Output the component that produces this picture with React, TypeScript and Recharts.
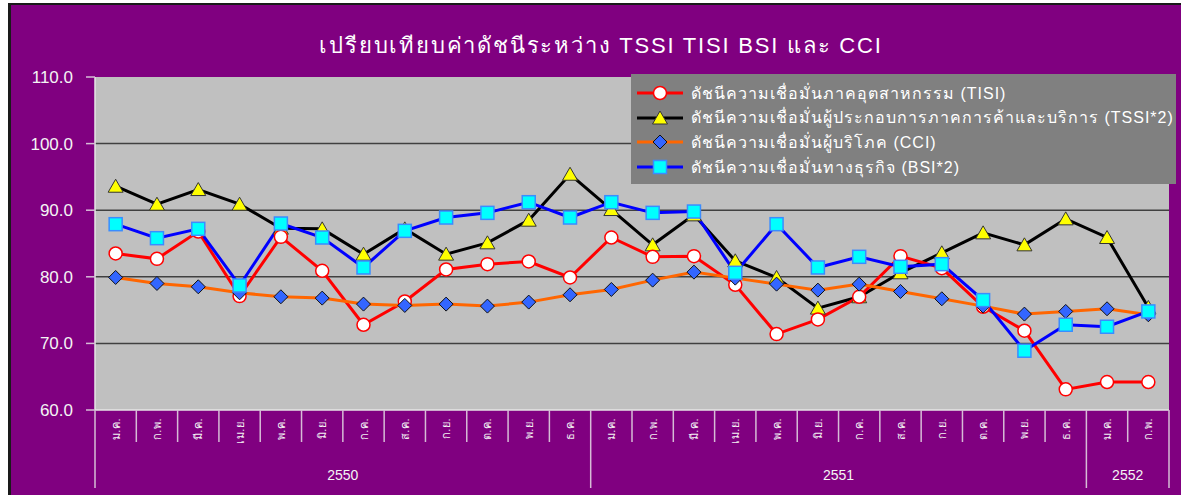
import React from 'react'
import { LineChart, Line, XAxis, YAxis, CartesianGrid, Legend } from 'recharts'

const months = [
  'ม.ค.', 'ก.พ.', 'มี.ค.', 'เม.ย.', 'พ.ค.', 'มิ.ย.', 'ก.ค.', 'ส.ค.', 'ก.ย.', 'ต.ค.', 'พ.ย.', 'ธ.ค.',
  'ม.ค.', 'ก.พ.', 'มี.ค.', 'เม.ย.', 'พ.ค.', 'มิ.ย.', 'ก.ค.', 'ส.ค.', 'ก.ย.', 'ต.ค.', 'พ.ย.', 'ธ.ค.',
  'ม.ค.', 'ก.พ.',
]
const years = ['2550', '2551', '2552']
const monthsPerYear = [12, 12, 2]

const tisi = [83.5, 82.7, 86.8, 77.1, 86.0, 80.9, 72.8, 76.3, 81.1, 81.9, 82.3, 79.9, 85.9, 83.0, 83.1, 78.8, 71.4, 73.6, 77.0, 83.1, 81.3, 75.5, 71.9, 63.1, 64.2, 64.2]
const tssi = [93.6, 90.9, 93.1, 90.9, 87.3, 87.2, 83.4, 87.2, 83.4, 85.1, 88.5, 95.4, 90.1, 84.8, 89.3, 82.4, 79.9, 75.3, 77.0, 80.6, 83.6, 86.6, 84.8, 88.7, 85.9, 75.4]
const cci = [79.9, 79.0, 78.5, 77.6, 77.0, 76.8, 75.9, 75.7, 75.9, 75.6, 76.2, 77.3, 78.1, 79.5, 80.7, 79.8, 78.9, 78.0, 78.9, 77.8, 76.7, 75.6, 74.4, 74.8, 75.2, 74.3]
const bsi = [87.9, 85.8, 87.2, 78.7, 88.0, 85.9, 81.4, 86.9, 88.9, 89.6, 91.2, 88.9, 91.2, 89.6, 89.8, 80.6, 87.9, 81.4, 83.0, 81.5, 81.9, 76.5, 68.9, 72.8, 72.5, 74.8]

const yTicks = [60, 70, 80, 90, 100, 110]

const data = months.map((m, i) => ({ m, tisi: tisi[i], tssi: tssi[i], cci: cci[i], bsi: bsi[i] }))

const FONT = '"Liberation Sans", Arial, "DejaVu Sans", sans-serif'
const W = 1170
const H = 490
const PLOT_LEFT = 84
const PLOT_RIGHT = 1158
const PLOT_TOP = 72
const PLOT_BOTTOM = 405
const BAND = (PLOT_RIGHT - PLOT_LEFT) / months.length
const TICK_COLOR = '#d6bcd6'

const Circle = ({ cx, cy }: any) => (
  <circle cx={cx} cy={cy} r={6.5} fill="#ffffff" stroke="#ff0000" strokeWidth={1.5} />
)
const Triangle = ({ cx, cy }: any) => (
  <polygon
    points={`${cx},${cy - 7} ${cx + 7.5},${cy + 6} ${cx - 7.5},${cy + 6}`}
    fill="#ffff00"
    stroke="#333333"
    strokeWidth={1}
  />
)
const Diamond = ({ cx, cy }: any) => (
  <polygon
    points={`${cx},${cy - 7} ${cx + 7},${cy} ${cx},${cy + 7} ${cx - 7},${cy}`}
    fill="#3366ff"
    stroke="#111111"
    strokeWidth={1}
  />
)
const Square = ({ cx, cy }: any) => (
  <rect x={cx - 6.5} y={cy - 6.5} width={13} height={13} fill="#00ffff" stroke="#3a8cff" strokeWidth={1.5} />
)

const series = [
  { key: 'tisi', name: 'ดัชนีความเชื่อมั่นภาคอุตสาหกรรม (TISI)', color: '#ff0000', Mark: Circle },
  { key: 'tssi', name: 'ดัชนีความเชื่อมั่นผู้ประกอบการภาคการค้าและบริการ (TSSI*2)', color: '#000000', Mark: Triangle },
  { key: 'cci', name: 'ดัชนีความเชื่อมั่นผู้บริโภค (CCI)', color: '#ff6600', Mark: Diamond },
  { key: 'bsi', name: 'ดัชนีความเชื่อมั่นทางธุรกิจ (BSI*2)', color: '#0000ff', Mark: Square },
]

// month labels + the separators between categories and the year groups
function MonthTick(props: any) {
  const { x, index, payload } = props
  const starts: number[] = []
  let acc = 0
  monthsPerYear.forEach((n) => {
    starts.push(acc)
    acc += n
  })
  const g = starts.indexOf(index)
  const isLast = index === months.length - 1
  return (
    <g>
      <line
        x1={x - BAND / 2}
        x2={x - BAND / 2}
        y1={PLOT_BOTTOM}
        y2={g >= 0 ? 483 : 437}
        stroke={TICK_COLOR}
        strokeWidth={1.5}
      />
      {isLast && (
        <line x1={x + BAND / 2} x2={x + BAND / 2} y1={PLOT_BOTTOM} y2={483} stroke={TICK_COLOR} strokeWidth={1.5} />
      )}
      <text
        transform={`translate(${x + 4},${PLOT_BOTTOM + 8}) rotate(-90)`}
        textAnchor="end"
        fill="#f4f4f4"
        fontSize={11}
        fontFamily={FONT}
        letterSpacing={0.5}
      >
        {payload.value}
      </text>
      {g >= 0 && (
        <text
          x={x + ((monthsPerYear[g] - 1) / 2) * BAND}
          y={475}
          textAnchor="middle"
          fill="#f4f4f4"
          fontSize={14}
          fontFamily={FONT}
        >
          {years[g]}
        </text>
      )}
    </g>
  )
}

function LegendBox() {
  return (
    <div
      style={{
        width: 545,
        height: 110,
        background: '#808080',
        boxSizing: 'border-box',
        paddingTop: 7,
        fontFamily: FONT,
      }}
    >
      {series.map((s) => (
        <div key={s.key} style={{ height: 24.6, display: 'flex', alignItems: 'center' }}>
          <svg width={60} height={20} style={{ flex: 'none' }}>
            <line x1={6} x2={52} y1={10} y2={10} stroke={s.color} strokeWidth={3} />
            <s.Mark cx={29} cy={10} />
          </svg>
          <span style={{ color: '#ffffff', fontSize: 16, letterSpacing: 1, whiteSpace: 'nowrap' }}>{s.name}</span>
        </div>
      ))}
    </div>
  )
}

export default function App() {
  return (
    <div
      style={{
        position: 'absolute',
        left: 8,
        top: 3,
        width: W,
        height: H,
        background: '#800080',
        borderLeft: '3px solid #1a1a1a',
        borderTop: '2px solid #1a1a1a',
        overflow: 'hidden',
      }}
    >
      <div
        style={{
          position: 'absolute',
          left: 0,
          width: W,
          top: 23,
          textAlign: 'center',
          color: '#ffffff',
          fontSize: 22,
          fontFamily: FONT,
          letterSpacing: 1.8,
          paddingLeft: 10,
          boxSizing: 'border-box',
        }}
      >
        เปรียบเทียบค่าดัชนีระหว่าง TSSI TISI BSI และ CCI
      </div>
      <LineChart width={W} height={H} data={data} margin={{ top: PLOT_TOP, right: W - PLOT_RIGHT, bottom: 0, left: 0 }}>
        <CartesianGrid
          vertical={false}
          horizontalValues={[70, 80, 90, 100]}
          fill="#c0c0c0"
          fillOpacity={1}
          stroke="#404040"
          strokeWidth={1.5}
        />
        <XAxis
          dataKey="m"
          interval={0}
          height={H - PLOT_BOTTOM}
          padding={{ left: BAND / 2, right: BAND / 2 }}
          tickLine={false}
          tickSize={0}
          axisLine={{ stroke: '#e6e6e6', strokeWidth: 1.5 }}
          tick={<MonthTick />}
        />
        <YAxis
          domain={[60, 110]}
          ticks={yTicks}
          width={PLOT_LEFT}
          tickSize={9}
          tickMargin={13}
          tickFormatter={(v: number) => v.toFixed(1)}
          tick={{ fill: '#f4f4f4', fontSize: 17, fontFamily: FONT }}
          tickLine={{ stroke: TICK_COLOR, strokeWidth: 1.5 }}
          axisLine={{ stroke: '#e6e6e6', strokeWidth: 1.5 }}
        />
        <Legend
          layout="vertical"
          align="center"
          verticalAlign="middle"
          wrapperStyle={{ position: 'absolute', left: 620, top: 69, width: 545 }}
          content={() => <LegendBox />}
        />
        <Line dataKey="tssi" stroke="#000000" strokeWidth={3} dot={(p: any) => <Triangle key={p.index} {...p} />} isAnimationActive={false} />
        <Line dataKey="tisi" stroke="#ff0000" strokeWidth={3} dot={(p: any) => <Circle key={p.index} {...p} />} isAnimationActive={false} />
        <Line dataKey="cci" stroke="#ff6600" strokeWidth={3} dot={(p: any) => <Diamond key={p.index} {...p} />} isAnimationActive={false} />
        <Line dataKey="bsi" stroke="#0000ff" strokeWidth={3} dot={(p: any) => <Square key={p.index} {...p} />} isAnimationActive={false} />
      </LineChart>
    </div>
  )
}
